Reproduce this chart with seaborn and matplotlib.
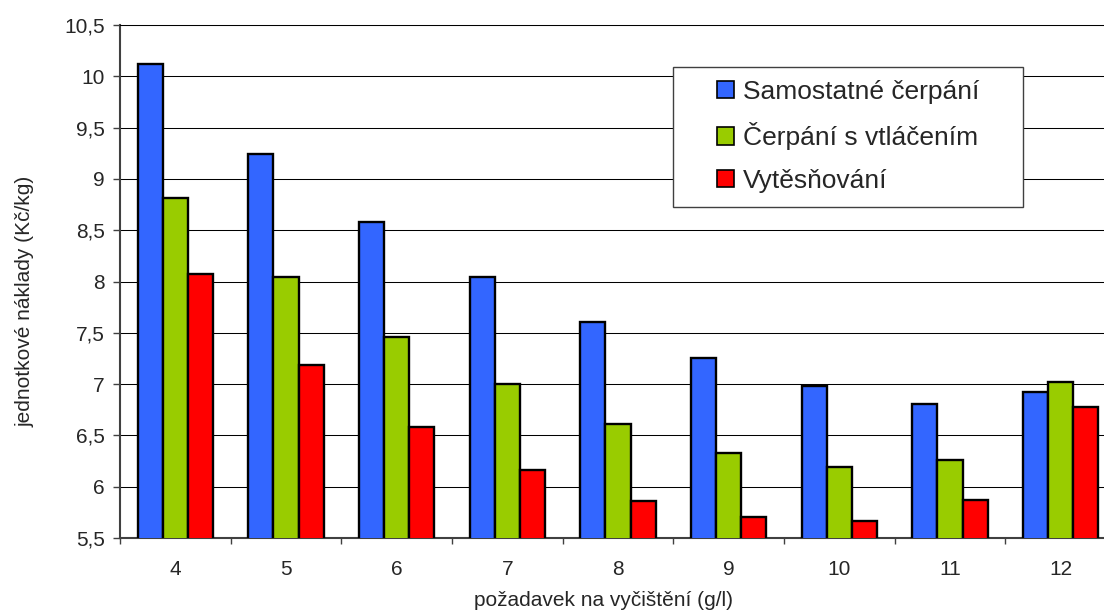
import matplotlib
matplotlib.use("Agg")
import matplotlib.pyplot as plt
from matplotlib.patches import Patch, Rectangle
from matplotlib.ticker import FixedLocator, FuncFormatter
import numpy as np
import pandas as pd
import seaborn as sns

# Required cleaning level (g/l)
requirement = ["4", "5", "6", "7", "8", "9", "10", "11", "12"]

# Unit costs (Kč/kg) for each technology
samostatne = [10.12, 9.24, 8.58, 8.04, 7.61, 7.25, 6.98, 6.81, 6.92]
vtlaceni = [8.81, 8.04, 7.46, 7.00, 6.61, 6.33, 6.19, 6.26, 7.02]
vytesnovani = [8.07, 7.19, 6.58, 6.16, 5.86, 5.70, 5.67, 5.87, 6.78]

series_names = ["Samostatné čerpání", "Čerpání s vtláčením", "Vytěsňování"]
series_colors = ["#3366FF", "#99CC00", "#FF0000"]

y_ticks = [5.5, 6, 6.5, 7, 7.5, 8, 8.5, 9, 9.5, 10, 10.5]

df = pd.DataFrame({
    "pozadavek": requirement * 3,
    "naklady": samostatne + vtlaceni + vytesnovani,
    "metoda": [series_names[0]] * 9 + [series_names[1]] * 9 + [series_names[2]] * 9,
})

sns.set_style("white")
plt.rcParams["font.family"] = ["Liberation Sans", "DejaVu Sans"]

fig = plt.figure(figsize=(11.04, 6.16), dpi=100)
ax = fig.add_axes([120 / 1104, 78 / 616, 996 / 1104, 513 / 616])

sns.barplot(
    data=df, x="pozadavek", y="naklady", hue="metoda",
    order=requirement, hue_order=series_names,
    palette=series_colors, saturation=1, width=0.68, gap=0,
    edgecolor="black", linewidth=1.7, legend=False, ax=ax, zorder=3,
)

ax.set_xlim(-0.5, len(requirement) - 0.5)
ax.set_ylim(5.5, 10.5)

# y axis: comma decimal separators, horizontal gridlines
ax.yaxis.set_major_locator(FixedLocator(y_ticks))
ax.yaxis.set_major_formatter(FuncFormatter(lambda v, p: f"{v:g}".replace(".", ",")))
ax.grid(axis="y", color="black", linewidth=0.75, zorder=0)
ax.set_axisbelow(True)

# x axis: tick marks on category boundaries, labels at centres
centers = np.arange(len(requirement))
ax.xaxis.set_major_locator(FixedLocator(np.arange(len(requirement) + 1) - 0.5))
ax.xaxis.set_major_formatter(FuncFormatter(lambda v, p: ""))
ax.xaxis.set_minor_locator(FixedLocator(centers))
ax.xaxis.set_minor_formatter(FuncFormatter(lambda v, p: requirement[int(round(v))]))

ax.tick_params(axis="y", which="major", direction="out", length=5, width=1,
               color="#404040", labelsize=15, pad=6, left=True)
ax.tick_params(axis="x", which="major", direction="out", length=4, width=1,
               color="#404040", bottom=True)
ax.tick_params(axis="x", which="minor", length=0, labelsize=15, pad=16)

for side in ("left", "bottom"):
    ax.spines[side].set_color("#404040")
    ax.spines[side].set_linewidth(1.5)
ax.spines["top"].set_color("#000000")
ax.spines["top"].set_linewidth(0.75)
ax.spines["right"].set_visible(False)

ax.set_xlabel("požadavek na vyčištění (g/l)", fontsize=15)
ax.set_ylabel("jednotkové náklady (Kč/kg)", fontsize=15)
ax.xaxis.set_label_coords(0.4854, -0.103)
ax.yaxis.set_label_coords(-0.086, 0.462)

# legend box with square swatches
frame = Rectangle((672.7 / 1104, 1 - 206.7 / 616), 350 / 1104, 140 / 616,
                  transform=fig.transFigure, facecolor="white",
                  edgecolor="#404040", linewidth=1.0, zorder=4)
fig.patches.append(frame)

handles = [Patch(facecolor=c, edgecolor="black", linewidth=1.2) for c in series_colors]
leg = fig.legend(
    handles, series_names, loc="upper left",
    bbox_to_anchor=(716.7 / 1104, 1 - 80 / 616), frameon=False,
    fontsize=19, handlelength=0.64, handleheight=0.64, handletextpad=0.35,
    labelspacing=0.70, borderpad=0, borderaxespad=0,
)
leg.set_zorder(5)

fig.savefig("out.png", dpi=100)
